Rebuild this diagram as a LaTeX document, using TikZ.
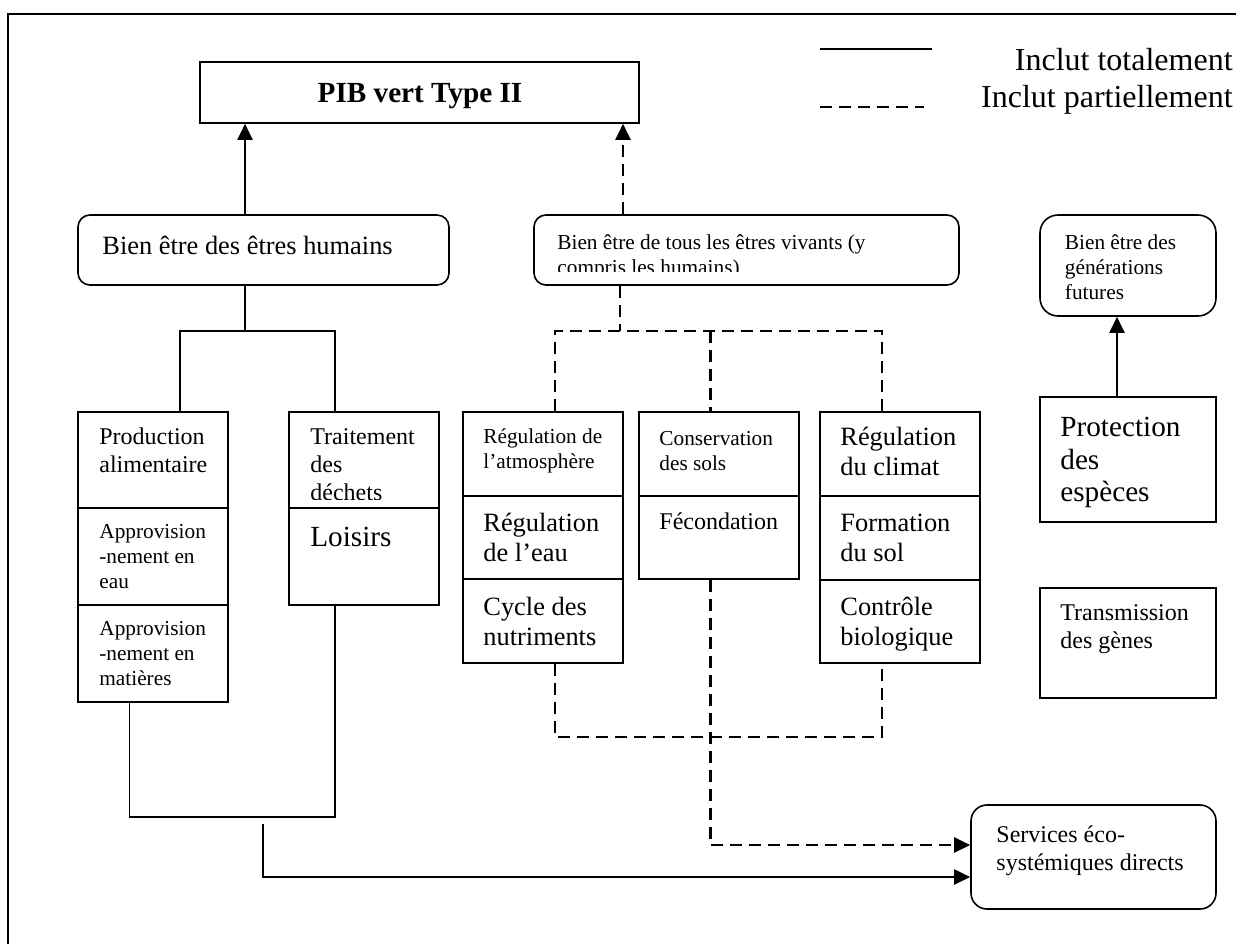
\documentclass[tikz,border=0pt]{standalone}
\usepackage{fontspec}
\setmainfont{Liberation Serif}
\usetikzlibrary{arrows.meta,fit}
\begin{document}
\begin{tikzpicture}[x=0.5pt,y=-0.5pt,
  cell/.style={draw, line width=0.8pt, inner sep=0pt},
  rbox/.style={cell, rounded corners=6pt},
  % multi-line text is placed by the baseline of its last line
  txt/.style={anchor=base west, inner sep=0pt, align=left},
  fsS/.style={font=\fontsize{10.65pt}{12.4pt}\selectfont},
  fsM/.style={font=\fontsize{12pt}{13.9pt}\selectfont},
  fsL/.style={font=\fontsize{13.2pt}{15pt}\selectfont},
  fsX/.style={font=\fontsize{14.6pt}{16.3pt}\selectfont},
  fsLeg/.style={font=\fontsize{16pt}{18pt}\selectfont},
  link/.style={line width=0.8pt},
  strong/.style={line width=1pt},
  dsh/.style={line width=1.1pt, dash pattern=on 6pt off 3.5pt},
  arr/.style={-{Triangle[length=8pt,width=7.5pt]}}
]
\useasboundingbox (0,0) rectangle (1236,944);

% frame (left and top edges)
\draw[line width=1.1pt] (8,944) -- (8,14) -- (1236,14);

% legend
\coordinate (legA) at (820,49);  \coordinate (legB) at (932,49);
\coordinate (legC) at (820,107); \coordinate (legD) at (924,107);
\draw[strong] (legA) -- (legB);
\draw[dsh] (legC) -- (legD);
\node[fsLeg, anchor=base east, inner sep=0pt] (leg1) at (1233,70) {Inclut totalement};
\node[fsLeg, anchor=base east, inner sep=0pt] (leg2) at (1233,107) {Inclut partiellement};

% top box
\node[cell, fit={(200,62) (639,123)}] (pib) {};
\node[anchor=base, inner sep=0pt, font=\fontsize{14.6pt}{16pt}\selectfont\bfseries] (tpib) at (420,102) {PIB vert Type II};

% well-being boxes
\node[rbox, fit={(78,215) (449,285)}] (human) {};
\node[txt, fsL] (thuman) at (102,254) {Bien être des êtres humains};

\node[rbox, fit={(534,215) (959,285)}] (living) {};
\begin{scope}
  \clip (534,215) rectangle (959,271.5);
  \node[txt, fsS] (tliving) at (557,274) {Bien être de tous les êtres vivants (y\\compris les humains)};
\end{scope}

\node[rbox, rounded corners=9pt, fit={(1040,215) (1216,316)}] (future) {};
\node[txt, fsS] (tfuture) at (1064.5,299) {Bien être des\\générations\\futures};

% human services column
\node[cell, fit={(78,412) (228,508)}] (prod) {};
\node[cell, fit={(78,508) (228,605)}] (eau) {};
\node[cell, fit={(78,605) (228,702)}] (mat) {};
\node[txt, fsM] (tprod) at (99,472.7) {Production\\alimentaire};
\node[txt, fsS] (teau) at (99,588.5) {Approvision\\-nement en\\eau};
\node[txt, fsS] (tmat) at (99,685) {Approvision\\-nement en\\matières};

\node[cell, fit={(289,412) (439,508)}] (dech) {};
\node[cell, fit={(289,508) (439,605)}] (lois) {};
\begin{scope}
  \clip (289,412) rectangle (439,499.5);
  \node[txt, fsM] (tdech) at (310,500.3) {Traitement\\des\\déchets};
\end{scope}
\node[txt, fsX] (tlois) at (310,546.7) {Loisirs};

% living services columns
\node[cell, fit={(463,412) (623,496)}] (atm) {};
\node[cell, fit={(463,496) (623,579)}] (eaureg) {};
\node[cell, fit={(463,579) (623,663)}] (cycle) {};
\node[txt, fsS] (tatm) at (483,468.3) {Régulation de\\l’atmosphère};
\node[txt, fsL] (teaureg) at (483,561.7) {Régulation\\de l’eau};
\node[txt, fsL] (tcycle) at (483,645.5) {Cycle des\\nutriments};

\node[cell, fit={(639,412) (799,496)}] (cons) {};
\node[cell, fit={(639,496) (799,579)}] (fec) {};
\node[txt, fsS] (tcons) at (659,470) {Conservation\\des sols};
\node[txt, fsM] (tfec) at (659,529) {Fécondation};

\node[cell, fit={(820,412) (980,496)}] (clim) {};
\node[cell, fit={(820,496) (980,580)}] (form) {};
\node[cell, fit={(820,580) (980,663)}] (ctrl) {};
\node[txt, fsL] (tclim) at (840,475) {Régulation\\du climat};
\node[txt, fsL] (tform) at (840,561.7) {Formation\\du sol};
\node[txt, fsL] (tctrl) at (840,645) {Contrôle\\biologique};

% future generations
\node[cell, fit={(1040,397) (1216,522)}] (prot) {};
\node[txt, fsX] (tprot) at (1060,501.7) {Protection\\des\\espèces};
\node[cell, fit={(1040,588) (1216,698)}] (trans) {};
\node[txt, fsM] (ttrans) at (1060,648.3) {Transmission\\des gènes};

% direct services
\node[rbox, rounded corners=8pt, fit={(971,805) (1216,909)}] (serv) {};
\node[txt, fsM] (tserv) at (996,870.5) {Services éco-\\systémiques directs};

% connector positions
\coordinate (xH) at (245,331);
\coordinate (xLv) at (623,0);
\coordinate (xLd) at (620,331);
\coordinate (xP) at (180,331);
\coordinate (xD) at (335,331);
\coordinate (xA) at (555,331);
\coordinate (xC) at (710.5,331);
\coordinate (xK) at (882,331);
\coordinate (bA) at (555,737);
\coordinate (bK) at (882,737);
\coordinate (bC) at (710.5,845);
\coordinate (mL) at (129.5,817);
\coordinate (mR) at (335,817);
\coordinate (sT) at (263,824);
\coordinate (sB) at (263,877);
\coordinate (xF) at (1117,0);

% links to the top box
\draw[strong, arr] (human.north -| xH) -- (pib.south -| xH);
\draw[dsh, arr] (living.north -| xLv) -- (pib.south -| xLv);
\draw[strong, arr] (prot.north -| xF) -- (future.south -| xF);

% human tree
\draw[link] (human.south -| xH) -- (xH);
\draw[link] (prod.north -| xP) -- (xP) -- (xD) -- (dech.north -| xD);

% living tree
\draw[dsh] (living.south -| xLd) -- (xLd);
\draw[dsh] (atm.north -| xA) -- (xA) -- (xK) -- (clim.north -| xK);
\draw[dsh] (xC) -- (cons.north -| xC);

% lower dashed branch
\draw[dsh] (cycle.south -| bA) -- (bA) -- (bK) -- (ctrl.south -| bK);
\draw[dsh, arr] (fec.south -| bC) -- (bC) -- (serv.west |- bC);

% lower solid branch
\draw[link] (mat.south -| mL) -- (mL) -- (mR) -- (lois.south -| mR);
\draw[strong, arr] (sT) -- (sB) -- (serv.west |- sB);
\end{tikzpicture}
\end{document}
